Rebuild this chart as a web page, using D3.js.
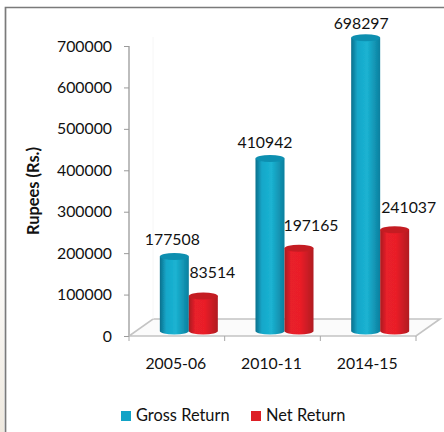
<!DOCTYPE html>
<html><head><meta charset="utf-8">
<script src="https://cdn.jsdelivr.net/npm/d3@7"></script>
<style>html,body{margin:0;padding:0;background:#fff}svg{display:block}text{font-family:Lato,Carlito,sans-serif;fill:#111}</style>
</head><body><div id="c"></div>
<script>
const categories=["2005-06","2010-11","2014-15"];
const seriesNames=["Gross Return","Net Return"];
const grossReturn=[177508,410942,698297];
const netReturn=[83514,197165,241037];
const yTicks=[0,100000,200000,300000,400000,500000,600000,700000];
const colors={Gross:["#0b6f8c","#16a7c9","#1bb3d2","#0c7f9e"],Net:["#a81a20","#e8202a","#ea1f28","#b01a22"]};
const labelShift=[[[-2,-11],[9,-18]],[[-5,-10],[12,-17]],[[-4.5,-9],[14,-17]]]; // label nudges

const W=444,H=432;
const svg=d3.select("#c").append("svg").attr("width",W).attr("height",H);
const defs=svg.append("defs");
function grad(id,c){
  const g=defs.append("linearGradient").attr("id",id);
  [[0,c[0]],[.22,c[1]],[.55,c[2]],[1,c[3]]].forEach(s=>g.append("stop").attr("offset",s[0]).attr("stop-color",s[1]));
}
grad("gG",colors.Gross);grad("gN",colors.Net);
defs.append("filter").attr("id","soft").append("feGaussianBlur").attr("stdDeviation",0.5);
const edge=defs.append("linearGradient").attr("id","edge").attr("x2",0).attr("y2",1);
edge.append("stop").attr("offset",0).attr("stop-color","#fff");
edge.append("stop").attr("offset",1).attr("stop-color","#efe9df");

// frame
svg.append("rect").attr("x",0).attr("y",230).attr("width",4).attr("height",H-230).attr("fill","url(#edge)");
svg.append("path").attr("d",`M5.5 ${H}V7.5H${W}`).attr("fill","none").attr("stroke","#7a7a7a").attr("stroke-width",1.7);

const y=d3.scaleLinear().domain([0,700000]).range([336,46]);
const x=d3.scaleBand().domain(categories).range([129,416]);
const depth={dx:24,dy:17};

// floor and faint back walls
const floor=[[x.range()[0],y(0)],[x.range()[1],y(0)],[x.range()[1]+depth.dx,y(0)-depth.dy],[x.range()[0]+depth.dx,y(0)-depth.dy]];
svg.append("path").attr("d",d3.line()(floor)+"Z").attr("fill","#fbfbfb").attr("stroke","#c4c4c4").attr("stroke-width",1.6);
svg.append("line").attr("x1",x.range()[0]+depth.dx).attr("x2",x.range()[0]+depth.dx)
  .attr("y1",y(700000)-depth.dy+8).attr("y2",y(0)-depth.dy).attr("stroke","#f6f6f6");

// y axis
const ay=svg.append("g").attr("transform",`translate(${x.range()[0]},0)`)
  .call(d3.axisLeft(y).tickValues(yTicks).tickFormat(d3.format("d")).tickSize(5).tickPadding(12));
ay.select(".domain").attr("stroke","#bdbdbd").attr("stroke-width",2).attr("d",`M0 ${y(700000)}V${y(0)}`);
ay.selectAll(".tick line").attr("stroke","#9a9a9a");
ay.selectAll("text").attr("font-size",15.8).style("font-family","Lato,sans-serif").attr("fill","#111");

// x axis
const ax=svg.append("g").attr("transform",`translate(0,${y(0)})`)
  .call(d3.axisBottom(x).tickSize(0).tickPadding(22));
ax.select(".domain").remove();
ax.selectAll("text").attr("font-size",15.8).style("font-family","Lato,sans-serif").attr("fill","#111").attr("dx",-1);
svg.append("g").selectAll("line").data(categories.concat(["end"])).join("line")
  .attr("x1",(d,i)=>x.range()[0]+i*x.step()).attr("x2",(d,i)=>x.range()[0]+i*x.step())
  .attr("y1",y(0)).attr("y2",y(0)+5).attr("stroke","#a8a8a8");

// cylinders
const barW=29,rY=3.5,base=331,ox=12;
const barHeight=d3.scaleLinear().domain([0,700000]).range([0,294]);
const inner=d3.scaleBand().domain(seriesNames).range([-barW,barW]);
function cyl(g,cx0,val,fill,topc){
  const t=base-barHeight(val),l=cx0,r=cx0+barW,rx=barW/2;
  g.append("path").attr("d",`M${l} ${t}V${base}A${rx} ${rY} 0 0 0 ${r} ${base}V${t}Z`).attr("fill",fill);
  g.append("ellipse").attr("cx",l+rx).attr("cy",t).attr("rx",rx).attr("ry",rY).attr("fill",topc);
}
const gBars=svg.append("g").attr("filter","url(#soft)");
categories.forEach((c,i)=>{
  const cx=x(c)+x.bandwidth()/2+ox;
  cyl(gBars.append("g"),cx+inner(seriesNames[0]),grossReturn[i],"url(#gG)","#0f8fb0");
  cyl(gBars.append("g"),cx+inner(seriesNames[1]),netReturn[i],"url(#gN)","#c41c24");
});

// data labels
categories.forEach((c,i)=>{
  const cx=x(c)+x.bandwidth()/2+ox;
  [grossReturn[i],netReturn[i]].forEach((v,j)=>{
    svg.append("text").attr("x",cx+inner(seriesNames[j])+barW/2+labelShift[i][j][0])
      .attr("y",base-barHeight(v)+labelShift[i][j][1]).attr("text-anchor","middle")
      .attr("font-size",15.8).text(v);
  });
});

// y title
svg.append("text").attr("transform","translate(39,191) rotate(-90)").attr("text-anchor","middle")
  .attr("font-size",16.4).attr("font-weight",700).text("Rupees (Rs.)");

// legend
const lg=svg.append("g");
[[121,"#12a3c6"],[251,"#dd1f26"]].forEach((d,i)=>{
  lg.append("rect").attr("x",d[0]).attr("y",411).attr("width",10).attr("height",10).attr("fill",d[1]);
  lg.append("text").attr("x",d[0]+15).attr("y",421).attr("font-size",16.4).text(seriesNames[i]);
});
</script></body></html>
